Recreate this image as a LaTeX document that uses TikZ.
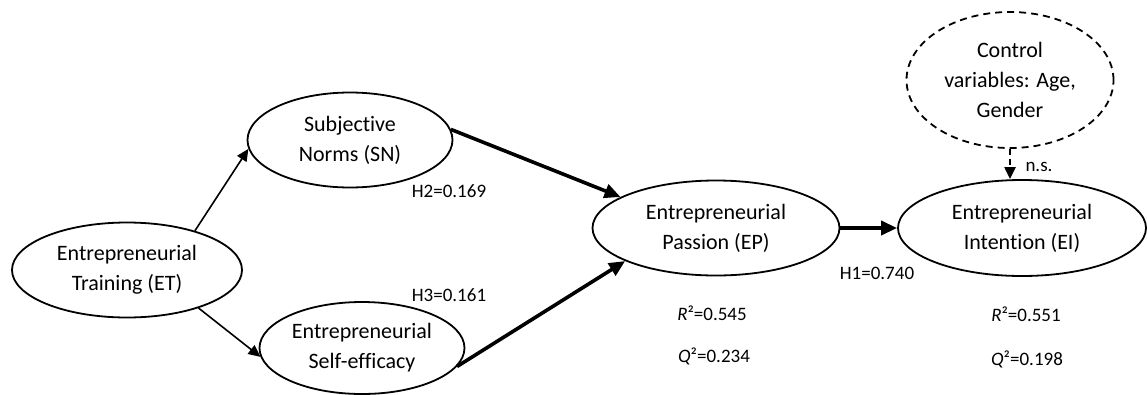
\documentclass[tikz,border=0pt]{standalone}
\usepackage{fontspec}
\setmainfont{Carlito}[Ligatures=CommonOff]
\usetikzlibrary{shapes.geometric,arrows.meta}
\begin{document}
\begin{tikzpicture}[x=1pt,y=-1pt,
  latent/.style={ellipse,draw,line width=1.8pt,inner sep=0pt,align=center,
    font=\fontsize{22}{30}\selectfont},
  thinarrow/.style={-{Triangle[length=12pt,width=11pt]},line width=1.6pt},
  thickarrow/.style={-{Triangle[length=16pt,width=14pt]},line width=3.6pt},
  coef/.style={inner sep=0pt,font=\fontsize{19}{22}\selectfont}]
  \useasboundingbox (0,0) rectangle (1147,394);
  % latent constructs
  \node[latent,minimum width=230pt,minimum height=95pt] (et) at (127,270) {Entrepreneurial\\Training (ET)};
  \node[latent,minimum width=205pt,minimum height=95pt] (sn) at (350,140) {Subjective\\Norms (SN)};
  \node[latent,minimum width=205pt,minimum height=92pt] (se) at (362,348) {Entrepreneurial\\Self-efficacy};
  \node[latent,minimum width=247pt,minimum height=95pt] (ep) at (716,228) {Entrepreneurial\\Passion (EP)};
  \node[latent,minimum width=248pt,minimum height=96pt] (ei) at (1022,228) {Entrepreneurial\\Intention (EI)};
  % control variables (dashed)
  \node[latent,dashed,dash pattern=on 7pt off 5pt,minimum width=207pt,minimum height=136pt] (cv) at (1010,80)
    {Control\\variables: Age,\\Gender};
  % paths
  \draw[thinarrow] (et.30) -- (sn.185);
  \draw[thinarrow] (et.332) -- (se.185);
  \draw[thickarrow] (sn.6) -- (ep.162);
  \draw[thickarrow] (se.349) -- (ep.200);
  \draw[thickarrow] (ep.east) -- (ei.west);
  \draw[thinarrow,line width=2.2pt,dash pattern=on 6pt off 4pt] (cv.south) -- (cv.south |- ei.north);
  % coefficients
  \node[coef] (h2) at (449,191) {H2=0.169};
  \node[coef] (h3) at (449,295) {H3=0.161};
  \node[coef] (h1) at (877,273) {H1=0.740};
  \node[coef] (ns) at (1039,167) {n.s.};
  % explained variance
  \node[coef] (r2ep) at (712,313) {\textit{R}²=0.545};
  \node[coef] (q2ep) at (714,356) {\textit{Q}²=0.234};
  \node[coef] (r2ei) at (1026,314) {\textit{R}²=0.551};
  \node[coef] (q2ei) at (1027,359) {\textit{Q}²=0.198};
\end{tikzpicture}
\end{document}
